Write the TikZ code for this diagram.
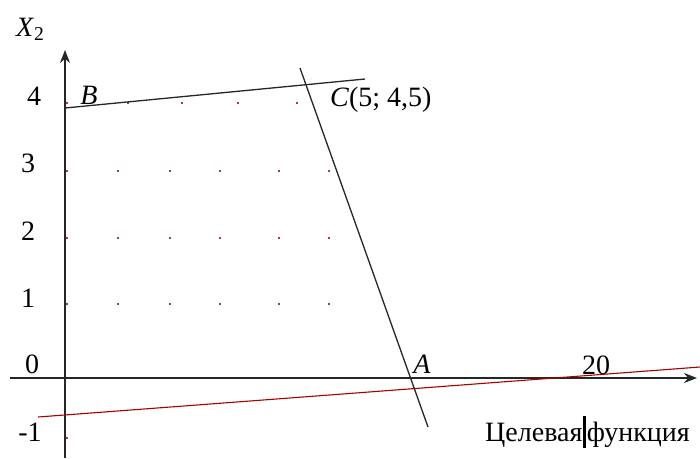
\documentclass[tikz,border=0pt]{standalone}
\usepackage{fontspec}
\setmainfont{Liberation Serif}
\usetikzlibrary{arrows.meta}

\begin{document}
\begin{tikzpicture}[
    x=1pt, y=-1pt,
    font=\fontsize{28}{32}\selectfont,
    axis/.style={line width=1.6pt, black!85, -{Stealth[length=13pt,width=10pt]}},
    limit/.style={line width=1.3pt, black!85},
    target/.style={line width=1.1pt, red!65!black},
    griddot/.style={circle, fill=red!45!black, inner sep=0pt, minimum size=2.2pt},
    lbl/.style={inner sep=0pt, anchor=base}
  ]
  \useasboundingbox (0,0) rectangle (700,458);

  % Оси
  \coordinate (xs) at (10,378);
  \coordinate (xe) at (697,378);
  \coordinate (ys) at (65,458);
  \coordinate (ye) at (65,50);
  \draw [axis] (xs) -- (xe);
  \draw [axis] (ys) -- (ye);

  % Точки сетки
  \foreach \y in {171,238,304}
    \foreach \x in {67,118,170,220,279,329}
      \node [griddot] at (\x,\y) {};
  \foreach \x in {67,128,182,238,297}
    \node [griddot] at (\x,103) {};
  \node [griddot] at (67,438) {};

  % Подписи осей
  \node (ylab) [lbl, anchor=base west] at (16,36) {\textit{X}\textsubscript{2}};
  \node (y4) [lbl] at (34,105) {4};
  \node (y3) [lbl] at (28,172) {3};
  \node (y2) [lbl] at (28,240) {2};
  \node (y1) [lbl] at (28,307) {1};
  \node (y0) [lbl] at (32,373) {0};
  \node (ym1) [lbl] at (30,441) {-1};
  \node (x20) [lbl] at (596,374) {20};

  % Ограничения
  \coordinate (b0) at (65,108);
  \coordinate (c1) at (365,79);
  \coordinate (a0) at (300,68);
  \coordinate (a1) at (428,427);
  \draw [limit] (b0) -- (c1);
  \draw [limit] (a0) -- (a1);

  % Целевая функция
  \coordinate (f0) at (38,417);
  \coordinate (f1) at (700,367);
  \draw [target] (f0) -- (f1);

  % Вершины
  \node (B) [lbl] at (89,104) {\textit{B}};
  \node (C) [lbl, anchor=base west] at (330,106) {\textit{C}(5; 4,5)};
  \node (A) [lbl] at (422,373) {\textit{A}};
  \node (goal) [lbl, anchor=base west] at (485,441)
    {Целевая\hspace{1pt}\rule[-0.25em]{2.5pt}{1.15em}\hspace{1pt}функция};

\end{tikzpicture}
\end{document}
